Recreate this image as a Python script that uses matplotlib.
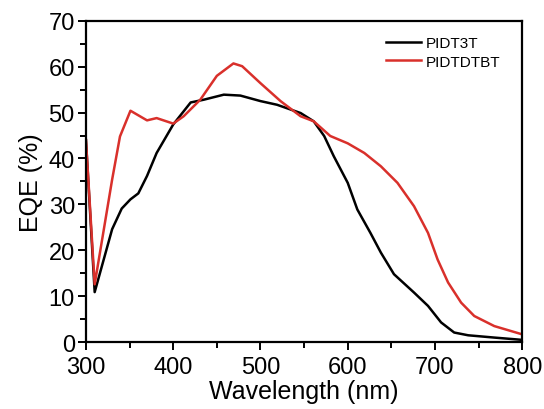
import matplotlib
matplotlib.use('Agg')
import matplotlib.pyplot as plt
from matplotlib.ticker import MultipleLocator

plt.rcParams['font.family'] = ['Liberation Sans', 'DejaVu Sans']

# PIDT3T (black)
wl_pidt3t = [300, 310, 330, 341, 351, 360, 370, 381, 400, 420, 435, 458, 477, 500, 519,
             546, 561, 573, 584, 600, 611, 626, 638, 653, 676, 692, 707, 722, 738, 768, 800]
eqe_pidt3t = [44, 10.9, 24.6, 29.1, 31.1, 32.4, 36.2, 41.2, 47.4, 52.2, 52.8, 53.9, 53.7, 52.5, 51.7,
              49.9, 48.1, 44.9, 40.5, 34.7, 28.9, 23.8, 19.5, 14.8, 10.8, 7.9, 4.3, 2.1, 1.5, 1.0, 0.5]

# PIDTDTBT (red)
wl_pidtdtbt = [300, 310, 330, 339, 351, 370, 381, 400, 412, 431, 450, 469, 479, 500, 523,
               546, 561, 580, 600, 619, 638, 657, 676, 692, 703, 715, 730, 745, 768, 800]
eqe_pidtdtbt = [44, 12.6, 35.4, 44.8, 50.4, 48.3, 48.8, 47.6, 49.2, 52.8, 58, 60.7, 60.1, 56.4, 52.5,
                49.2, 48.1, 44.9, 43.3, 41.2, 38.3, 34.7, 29.6, 23.8, 18, 13, 8.6, 5.7, 3.5, 1.7]

fig = plt.figure(figsize=(5.44, 4.10), dpi=100)
ax = fig.add_axes([0.158, 0.163, 0.802, 0.784])

ax.plot(wl_pidt3t, eqe_pidt3t, color='black', lw=1.8, label='PIDT3T')
ax.plot(wl_pidtdtbt, eqe_pidtdtbt, color='#d9302b', lw=1.8, label='PIDTDTBT')

ax.set_xlim(300, 800)
ax.set_ylim(0, 70)
ax.xaxis.set_major_locator(MultipleLocator(100))
ax.xaxis.set_minor_locator(MultipleLocator(50))
ax.yaxis.set_major_locator(MultipleLocator(10))
ax.yaxis.set_minor_locator(MultipleLocator(5))
ax.tick_params(which='major', direction='out', length=6, width=1.4, labelsize=17)
ax.tick_params(axis='y', which='major', pad=2)
ax.tick_params(axis='x', which='major', pad=4)
ax.tick_params(which='minor', direction='out', length=4, width=1.4)
for s in ax.spines.values():
    s.set_linewidth(1.6)

ax.set_xlabel('Wavelength (nm)', fontsize=18, labelpad=1)
ax.set_ylabel('EQE (%)', fontsize=18, labelpad=4)

ax.legend(loc='upper right', bbox_to_anchor=(0.975, 0.985), frameon=False, fontsize=11,
          handlelength=2.3, handletextpad=0.3, labelspacing=0.3, borderaxespad=0.3)

fig.savefig('out.png', dpi=100)
